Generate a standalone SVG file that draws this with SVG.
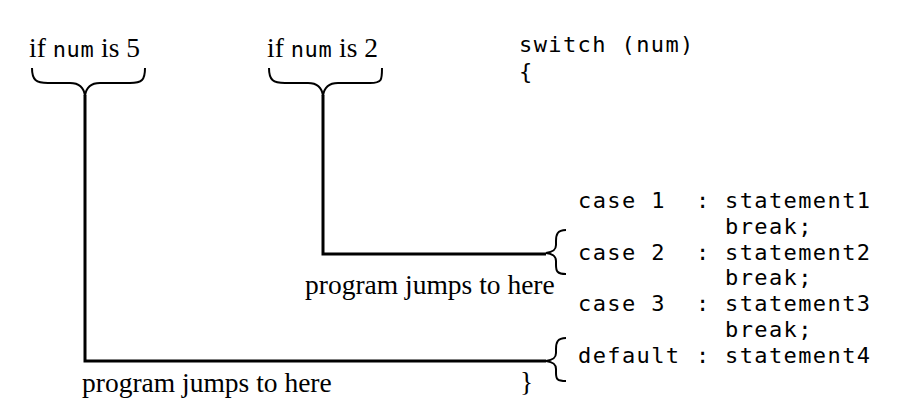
<svg xmlns="http://www.w3.org/2000/svg" width="902" height="419" viewBox="0 0 902 419">
  <style>
    .serif { font-family: "Liberation Serif", "Times New Roman", serif; font-size: 27.5px; fill: #000; }
    .mono { font-family: "DejaVu Sans Mono", "Liberation Mono", monospace; font-size: 22px; letter-spacing: 1.4px; fill: #000; }
    .var { font-family: "DejaVu Sans Mono", "Liberation Mono", monospace; font-size: 22px; letter-spacing: 0.6px; }
    .brace { fill: none; stroke: #000; stroke-width: 2; }
    .wire { fill: none; stroke: #000; stroke-width: 3; }
  </style>
  <rect width="902" height="419" fill="#fff"/>

  <!-- condition: num is 5 -->
  <g id="cond5">
    <text class="serif" x="29" y="57">if <tspan class="var">num</tspan> is 5</text>
    <path class="brace" d="M32,68 C32,80 36,83 48,83 L70,83 C80,83 84,88 85,96 C86,88 90,83 100,83 L130,83 C142,83 145,80 145,68"/>
  </g>

  <!-- condition: num is 2 -->
  <g id="cond2">
    <text class="serif" x="267" y="57">if <tspan class="var">num</tspan> is 2</text>
    <path class="brace" d="M269,68 C269,80 273,83 285,83 L308,83 C318,83 322,88 323,96 C324,88 328,83 338,83 L370,83 C382,83 382,80 382,68"/>
  </g>

  <!-- switch statement source -->
  <g id="switch">
    <text class="mono" x="519" y="52">switch (num)</text>
    <text class="mono" x="519" y="79">{</text>
    <text class="mono" x="578" y="208">case 1</text>
    <text class="mono" x="696" y="208">:</text>
    <text class="mono" x="725" y="208">statement1</text>
    <text class="mono" x="725" y="234">break;</text>
    <text class="mono" x="578" y="260">case 2</text>
    <text class="mono" x="696" y="260">:</text>
    <text class="mono" x="725" y="260">statement2</text>
    <text class="mono" x="725" y="285">break;</text>
    <text class="mono" x="578" y="311">case 3</text>
    <text class="mono" x="696" y="311">:</text>
    <text class="mono" x="725" y="311">statement3</text>
    <text class="mono" x="725" y="337">break;</text>
    <text class="mono" x="578" y="363">default</text>
    <text class="mono" x="696" y="363">:</text>
    <text class="mono" x="725" y="363">statement4</text>
    <text class="serif" x="520" y="391">}</text>
  </g>

  <!-- jump targets -->
  <g id="target2">
    <path class="brace" d="M566,230 C557,230 556,235 556,241 L556,245 C556,250 553,252 546,253 C553,254 556,256 556,261 L556,265 C556,271 557,274 566,274"/>
    <text class="serif" x="305" y="294">program jumps to here</text>
  </g>
  <g id="target5">
    <path class="brace" d="M566,338 C557,338 556,343 556,349 L556,353 C556,358 553,360 546,361 C553,362 556,364 556,369 L556,373 C556,379 557,381 566,381"/>
    <text class="serif" x="82" y="392">program jumps to here</text>
  </g>

  <!-- connectors -->
  <g id="connectors">
    <polyline class="wire" points="85,95 85,361 546,361"/>
    <polyline class="wire" points="323,95 323,254 546,254"/>
  </g>
</svg>
